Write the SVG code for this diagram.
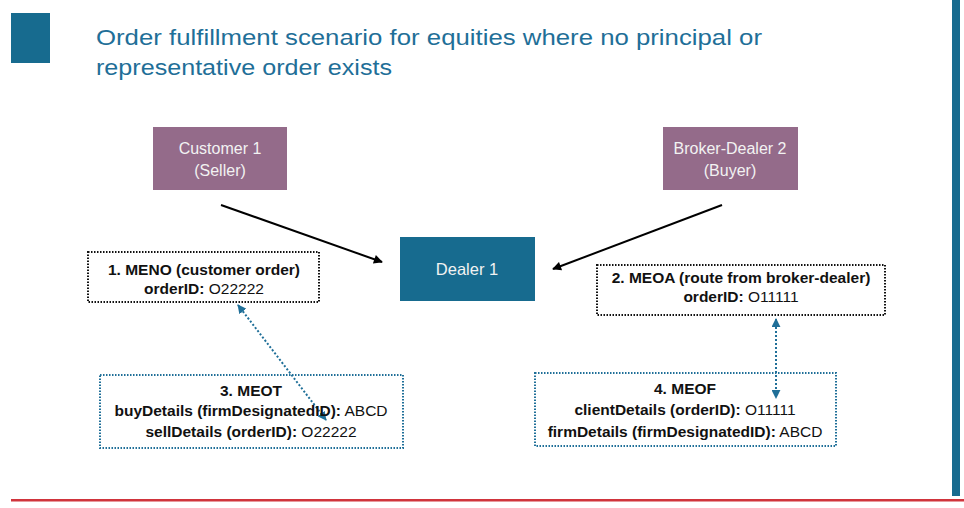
<svg xmlns="http://www.w3.org/2000/svg" width="964" height="508" viewBox="0 0 964 508">
<style>
  .title { font-family: "Liberation Sans", Arial, sans-serif; font-size: 22px; fill: #1f6f98; }
  .pbox { fill: #946b8a; }
  .dbox { fill: #176b8f; }
  .ntxt { font-family: "Liberation Sans", Arial, sans-serif; font-size: 16px; fill: #f2f2f2; text-anchor: middle; }
  .lbl { font-family: "Liberation Sans", Arial, sans-serif; font-size: 15.5px; fill: #111; text-anchor: middle; }
  .b { font-weight: bold; }
  .blk { fill: none; stroke: #111; stroke-width: 2; stroke-dasharray: 1.5 1.5; }
  .blu { fill: none; stroke: #1f6f98; stroke-width: 2; stroke-dasharray: 1.5 1.5; }
  .arr { stroke: #000; stroke-width: 2; fill: none; }
  .barr { stroke: #1f6f98; stroke-width: 2; stroke-dasharray: 2 2; fill: none; }
</style>
<defs>
  <marker id="ah" viewBox="0 0 10 10" refX="9" refY="5" markerWidth="5" markerHeight="4.5" orient="auto-start-reverse">
    <path d="M0,0 L10,5 L0,10 z" fill="#000"/>
  </marker>
  <marker id="bh" viewBox="0 0 10 10" refX="9" refY="5" markerWidth="4.5" markerHeight="4.5" orient="auto-start-reverse">
    <path d="M0,0 L10,5 L0,10 z" fill="#1f6f98"/>
  </marker>
</defs>
<rect width="964" height="508" fill="#ffffff"/>
<rect x="11" y="13" width="39" height="50" fill="#176b8f"/>
<rect x="952" y="0" width="8" height="496" fill="#176b8f"/>
<rect x="11" y="499" width="953" height="2.5" fill="#d0343c"/>
<text class="title" x="96" y="45" textLength="666" lengthAdjust="spacingAndGlyphs">Order fulfillment scenario for equities where no principal or</text>
<text class="title" x="96" y="75" textLength="296" lengthAdjust="spacingAndGlyphs">representative order exists</text>

<g id="connectors">
  <line class="arr" x1="221" y1="205" x2="382" y2="262" marker-end="url(#ah)"/>
  <line class="arr" x1="722" y1="205" x2="553" y2="269" marker-end="url(#ah)"/>
  <line class="barr" x1="238" y1="305" x2="326" y2="420" marker-start="url(#bh)" marker-end="url(#bh)"/>
  <line class="barr" x1="776" y1="319" x2="776" y2="398" marker-start="url(#bh)" marker-end="url(#bh)"/>
</g>

<g id="customer1">
  <rect class="pbox" x="153" y="127" width="134" height="63"/>
  <text class="ntxt" x="220" y="154">Customer 1</text>
  <text class="ntxt" x="220" y="176">(Seller)</text>
</g>
<g id="brokerdealer2">
  <rect class="pbox" x="663" y="127" width="135" height="63"/>
  <text class="ntxt" x="730" y="154">Broker-Dealer 2</text>
  <text class="ntxt" x="730" y="176">(Buyer)</text>
</g>
<g id="dealer1">
  <rect class="dbox" x="400" y="237" width="135" height="64"/>
  <text class="ntxt" x="467" y="275" style="font-size:16.5px">Dealer 1</text>
</g>
<g id="meno">
  <rect class="blk" x="88" y="252" width="231" height="50"/>
  <text class="lbl b" x="204" y="275">1. MENO (customer order)</text>
  <text class="lbl" x="204" y="294"><tspan class="b">orderID:</tspan> O22222</text>
</g>
<g id="meoa">
  <rect class="blk" x="597" y="265" width="288" height="50"/>
  <text class="lbl b" x="741" y="283">2. MEOA (route from broker-dealer)</text>
  <text class="lbl" x="741" y="302"><tspan class="b">orderID:</tspan> O11111</text>
</g>
<g id="meot">
  <rect class="blu" x="100" y="375" width="303" height="73"/>
  <text class="lbl b" x="251" y="396">3. MEOT</text>
  <text class="lbl" x="251" y="416"><tspan class="b">buyDetails (firmDesignatedID):</tspan> ABCD</text>
  <text class="lbl" x="251" y="437"><tspan class="b">sellDetails (orderID):</tspan> O22222</text>
</g>
<g id="meof">
  <rect class="blu" x="535" y="373" width="301" height="73"/>
  <text class="lbl b" x="685" y="394">4. MEOF</text>
  <text class="lbl" x="685" y="415"><tspan class="b">clientDetails (orderID):</tspan> O11111</text>
  <text class="lbl" x="685" y="437"><tspan class="b">firmDetails (firmDesignatedID):</tspan> ABCD</text>
</g>
</svg>
